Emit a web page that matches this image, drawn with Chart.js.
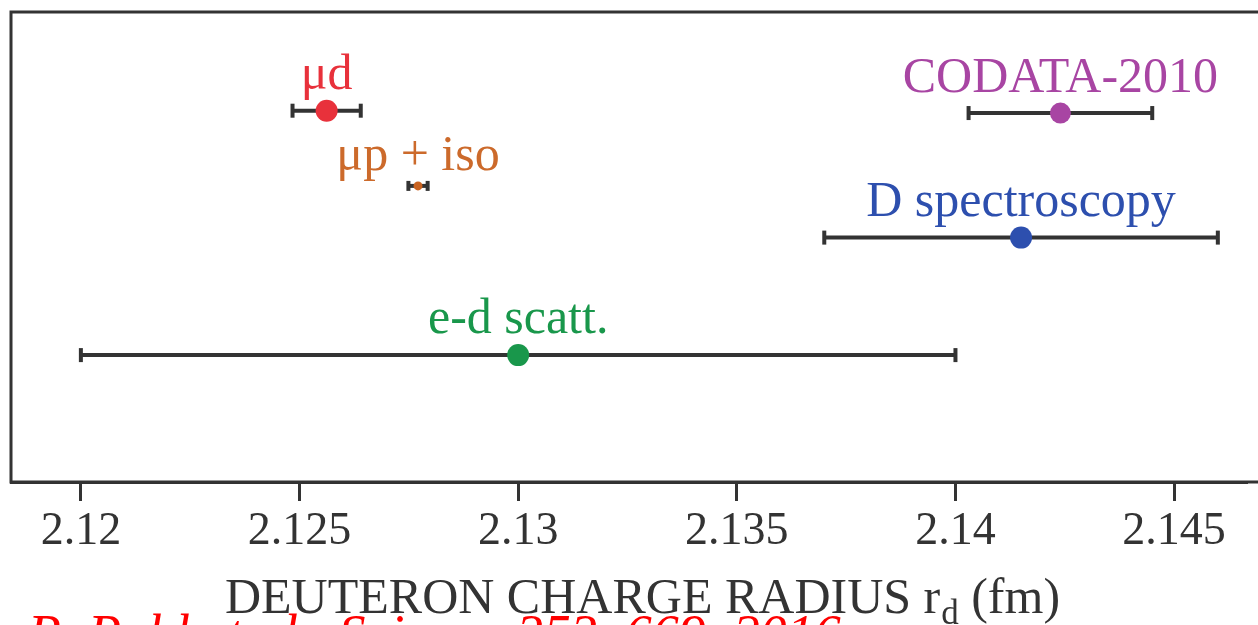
<!DOCTYPE html>
<html>
<head>
<meta charset="utf-8">
<title>Deuteron charge radius</title>
<script src="https://cdn.jsdelivr.net/npm/chart.js@4/dist/chart.umd.min.js"></script>
<style>
  html, body { margin: 0; padding: 0; background: #fff; overflow: hidden; }
  #wrap { position: relative; width: 1258px; height: 625px; }
</style>
</head>
<body>
<div id="wrap">
  <canvas id="radiusChart" width="1258" height="625"></canvas>
</div>
<script>
// Measurements of the deuteron charge radius r_d (fm)
const names = ['μd', 'μp + iso', 'CODATA-2010', 'D spectroscopy', 'e-d scatt.'];
const radius = [2.12562, 2.12771, 2.1424, 2.1415, 2.130];
const uncert = [0.00078, 0.00022, 0.0021, 0.0045, 0.010];
// vertical row of each measurement (arbitrary units, 0 = bottom)
const rows = [7.9, 6.3, 7.85, 5.2, 2.7];

const tickValues = [2.12, 2.125, 2.13, 2.135, 2.14, 2.145];
const tickLabels = ['2.12', '2.125', '2.13', '2.135', '2.14', '2.145'];

// styling
const pointColors = ['#e8313b', '#c9621f', '#a845a3', '#2d4fae', '#19974b'];
const textColors = ['#e8313b', '#cc6a2b', '#a845a3', '#2d4fae', '#19974b'];
const pointSizes = [11, 4.5, 10.5, 11, 11];
const ink = '#333';
const serif = '"Liberation Serif", "Times New Roman", serif';

// error bars with end caps, under the points
const errorBars = {
    id: 'errorBars',
    beforeDatasetsDraw(chart) {
        const ctx = chart.ctx;
        const xs = chart.scales.x;
        const ys = chart.scales.y;
        ctx.save();
        ctx.strokeStyle = ink;
        ctx.fillStyle = ink;
        ctx.lineWidth = 4;
        radius.forEach((r, i) => {
            const x0 = xs.getPixelForValue(r - uncert[i]);
            const x1 = xs.getPixelForValue(r + uncert[i]);
            const y = ys.getPixelForValue(rows[i]);
            const cap = i === 1 ? 5 : 7;
            ctx.beginPath();
            ctx.moveTo(x0, y);
            ctx.lineTo(x1, y);
            ctx.stroke();
            ctx.fillRect(x0 - 2, y - cap, 4, cap * 2);
            ctx.fillRect(x1 - 2, y - cap, 4, cap * 2);
        });
        ctx.restore();
    }
};

// coloured name above each point
const pointNames = {
    id: 'pointNames',
    afterDatasetsDraw(chart) {
        const ctx = chart.ctx;
        const xs = chart.scales.x;
        const ys = chart.scales.y;
        ctx.save();
        ctx.textAlign = 'center';
        ctx.textBaseline = 'alphabetic';
        ctx.font = '50px ' + serif;
        names.forEach((name, i) => {
            const x = xs.getPixelForValue(radius[i]);
            const y = ys.getPixelForValue(rows[i]);
            ctx.fillStyle = textColors[i];
            ctx.fillText(name, x, y - pointSizes[i] - 11);
        });
        ctx.restore();
    }
};

// frame lines, axis title with subscript and the reference line
const frame = {
    id: 'frame',
    afterDraw(chart) {
        const ctx = chart.ctx;
        const a = chart.chartArea;
        ctx.save();
        ctx.strokeStyle = ink;
        ctx.lineWidth = 3;
        ctx.beginPath();
        ctx.moveTo(chart.width + 5, a.bottom);
        ctx.lineTo(a.left, a.bottom);
        ctx.lineTo(a.left, a.top);
        ctx.lineTo(chart.width + 5, a.top);
        ctx.stroke();

        // axis title: DEUTERON CHARGE RADIUS r_d (fm)
        const big = '50px ' + serif;
        const small = '35px ' + serif;
        const part1 = 'DEUTERON CHARGE RADIUS r';
        const sub = 'd';
        const part2 = ' (fm)';
        ctx.font = big;
        const w1 = ctx.measureText(part1).width;
        const w3 = ctx.measureText(part2).width;
        ctx.font = small;
        const w2 = ctx.measureText(sub).width;
        let x = 642 - (w1 + w2 + w3) / 2;
        const base = 613;
        ctx.fillStyle = ink;
        ctx.textAlign = 'left';
        ctx.textBaseline = 'alphabetic';
        ctx.font = big;
        ctx.fillText(part1, x, base);
        x += w1 + 1;
        ctx.font = small;
        ctx.fillText(sub, x, base + 11);
        x += w2;
        ctx.font = big;
        ctx.fillText(part2, x, base);

        // source reference, bottom left
        ctx.font = 'italic 54px ' + serif;
        ctx.fillStyle = '#ff0000';
        ctx.fillText('R. Pohl et al., Science 353, 669, 2016', 28, 652);
        ctx.restore();
    }
};

new Chart(document.getElementById('radiusChart'), {
    type: 'scatter',
    data: {
        datasets: [{
            data: radius.map((r, i) => ({ x: r, y: rows[i] })),
            pointBackgroundColor: pointColors,
            pointBorderWidth: 0,
            pointRadius: pointSizes,
            pointHoverRadius: pointSizes
        }]
    },
    options: {
        responsive: false,
        animation: false,
        layout: { padding: { left: 10, top: 12, right: 0, bottom: 0 } },
        plugins: {
            legend: { display: false },
            tooltip: { enabled: false }
        },
        scales: {
            x: {
                type: 'linear',
                min: 2.118402,
                max: 2.146667,
                afterBuildTicks: (scale) => {
                    scale.ticks = tickValues.map(v => ({ value: v }));
                },
                afterFit: (scale) => { scale.height = 143; },
                ticks: {
                    callback: (value, i) => tickLabels[i],
                    color: ink,
                    font: { family: serif, size: 46 },
                    padding: 3,
                    maxRotation: 0,
                    autoSkip: false
                },
                grid: {
                    drawOnChartArea: false,
                    tickLength: 19,
                    tickWidth: 3,
                    tickColor: ink
                },
                border: { color: ink, width: 3 }
            },
            y: {
                type: 'linear',
                min: 0,
                max: 10,
                display: false
            }
        }
    },
    plugins: [errorBars, pointNames, frame]
});
</script>
</body>
</html>
